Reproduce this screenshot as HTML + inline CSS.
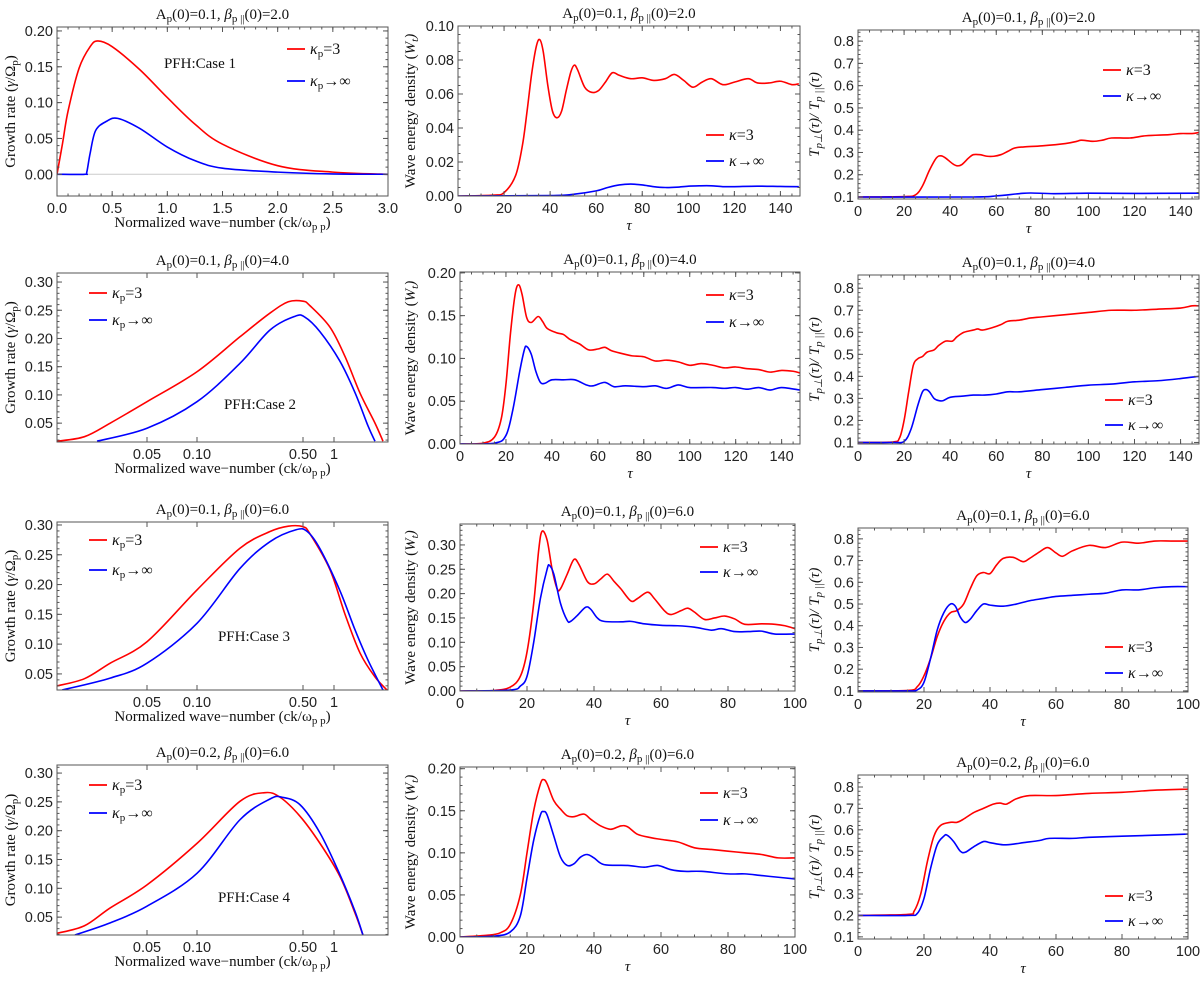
<!DOCTYPE html>
<html><head><meta charset="utf-8">
<style>
html,body{margin:0;padding:0;background:#fff;}
svg{display:block;}
.tk{font-family:"Liberation Sans",sans-serif;font-size:14.5px;fill:#222;}
.ttl{font-family:"Liberation Serif",serif;font-size:15px;fill:#111;}
.lab{font-family:"Liberation Serif",serif;font-size:15px;fill:#111;}
.leg{font-family:"Liberation Serif",serif;font-size:16px;fill:#111;}
</style></head>
<body>
<svg id="fig" width="1200" height="983" viewBox="0 0 1200 983" xmlns="http://www.w3.org/2000/svg"></svg>
<script>
// ---------- DATA ----------
const p11K = [0,0.05,0.1,0.2,0.3,0.37,0.5,0.75,1.0,1.25,1.5,2.0,2.5,3.0];
const p11Red = [0,0.043,0.088,0.148,0.178,0.186,0.178,0.146,0.107,0.070,0.042,0.012,0.003,0];
const p11BlueK = [0,0.25,0.27,0.3,0.35,0.45,0.55,0.75,1.0,1.25,1.5,2.0,2.5,3.0];
const p11Blue = [0,0,0.003,0.029,0.061,0.074,0.078,0.064,0.038,0.019,0.0085,0.003,0.0005,0];
const p21RedK = [0.0144,0.021,0.030,0.05,0.1,0.192,0.303,0.40,0.50,0.585,0.914,1.28,1.79,2.5,2.99];
const p21Red = [0.018,0.026,0.05,0.088,0.141,0.203,0.245,0.265,0.266,0.258,0.22,0.168,0.103,0.05,0.018];
const p21BlueK = [0.025,0.05,0.1,0.192,0.303,0.44,0.52,0.731,1.14,1.6,2.14,2.5];
const p21Blue = [0.018,0.041,0.088,0.156,0.215,0.239,0.238,0.212,0.16,0.104,0.045,0.018];
const p31RedK = [0.0144,0.021,0.030,0.05,0.1,0.192,0.303,0.40,0.50,0.585,0.914,1.28,1.79,2.5,3.27];
const p31Red = [0.030,0.042,0.068,0.104,0.191,0.261,0.289,0.298,0.297,0.285,0.225,0.15,0.085,0.045,0.023];
const p31BlueK = [0.0154,0.030,0.05,0.1,0.192,0.303,0.45,0.55,0.731,1.14,1.6,2.14,2.99];
const p31Blue = [0.023,0.043,0.068,0.135,0.227,0.272,0.292,0.289,0.26,0.19,0.124,0.073,0.023];
const p41RedK = [0.0144,0.021,0.030,0.05,0.1,0.192,0.28,0.353,0.478,0.731,1.14,1.6,1.91];
const p41Red = [0.022,0.035,0.066,0.106,0.178,0.251,0.266,0.258,0.225,0.178,0.121,0.057,0.019];
const p41BlueK = [0.0184,0.030,0.05,0.1,0.192,0.303,0.364,0.478,0.731,1.14,1.6,1.91];
const p41Blue = [0.019,0.04,0.069,0.126,0.219,0.255,0.258,0.245,0.196,0.124,0.06,0.019];

const p12RedT = [0,15,20,25,28,30,32,34,35.5,37,39,41,43,45,47,49,50.5,52,55,58,61,64,67,70,75,80,85,90,94,98,102,106,110,115,120,126,130,135,140,145,148];
const p12Red = [0,0.0005,0.002,0.012,0.03,0.05,0.072,0.088,0.092,0.085,0.065,0.05,0.046,0.05,0.062,0.073,0.077,0.074,0.064,0.061,0.062,0.067,0.0725,0.071,0.069,0.0695,0.068,0.069,0.0715,0.068,0.064,0.067,0.069,0.0655,0.067,0.069,0.0665,0.0665,0.0675,0.0655,0.066];
const p12BlueT = [0,40,50,60,65,70,75,80,85,90,95,100,105,110,115,120,130,140,148];
const p12Blue = [0,0.0003,0.001,0.003,0.005,0.0065,0.007,0.0065,0.0055,0.005,0.0052,0.0058,0.006,0.006,0.0055,0.0055,0.0058,0.0056,0.0055];
const p22RedT = [0,10,15,18,20,22,24,25.5,27,29,31,34,36,38,42,45,48,52,56,60,63,66,70,75,80,85,90,95,100,105,110,115,120,125,130,135,140,145,148];
const p22Red = [0,0.001,0.008,0.03,0.07,0.13,0.175,0.186,0.175,0.148,0.142,0.149,0.143,0.135,0.13,0.128,0.122,0.117,0.11,0.111,0.113,0.109,0.106,0.103,0.102,0.097,0.098,0.096,0.092,0.094,0.092,0.089,0.09,0.088,0.087,0.084,0.086,0.085,0.083];
const p22BlueT = [0,15,20,23,26,28,29,31,33,35,37,40,45,50,55,58,63,67,72,80,85,90,95,100,110,115,120,125,130,135,140,148];
const p22Blue = [0,0.001,0.01,0.04,0.085,0.11,0.114,0.105,0.085,0.072,0.071,0.075,0.075,0.075,0.069,0.068,0.072,0.067,0.068,0.067,0.068,0.065,0.069,0.066,0.066,0.065,0.066,0.064,0.066,0.063,0.066,0.063];
const p32RedT = [0,10,15,18,20,22,23.5,24.5,26,27.5,29,30,32,34,35.5,38,40,42,44,46,48,51,53,56,58,61,63,66,68,70,73,76,79,82,85,90,94,97,100];
const p32Red = [0,0.001,0.008,0.03,0.08,0.18,0.29,0.328,0.31,0.25,0.21,0.21,0.24,0.27,0.26,0.225,0.22,0.23,0.24,0.225,0.21,0.185,0.19,0.203,0.19,0.165,0.157,0.165,0.17,0.162,0.147,0.15,0.154,0.148,0.137,0.138,0.137,0.134,0.128];
const p32BlueT = [0,15,18,20,22,24,26,26.7,28,30,32,33,35,37.5,39,41,43,48,51,55,60,65,70,75,78,82,86,90,94,100];
const p32Blue = [0,0.002,0.01,0.03,0.1,0.19,0.25,0.258,0.24,0.18,0.145,0.143,0.155,0.172,0.168,0.15,0.143,0.142,0.143,0.138,0.135,0.134,0.131,0.125,0.128,0.122,0.122,0.123,0.117,0.117];
const p42RedT = [0,8,12,15,18,20,22,24,25,26,28,30,32,34,37,39,42,45,48,50,53,57,60,65,70,75,80,85,90,95,100];
const p42Red = [0,0.002,0.005,0.015,0.05,0.1,0.15,0.182,0.187,0.182,0.162,0.152,0.144,0.143,0.146,0.14,0.132,0.128,0.132,0.131,0.122,0.118,0.116,0.113,0.106,0.104,0.102,0.1,0.098,0.094,0.094];
const p42BlueT = [0,10,15,18,20,22,24,25,26,28,30,32,34,36,38,40,43,50,55,59,63,67,72,80,85,90,95,100];
const p42Blue = [0,0.001,0.006,0.025,0.07,0.115,0.145,0.149,0.145,0.12,0.095,0.085,0.087,0.095,0.098,0.094,0.086,0.085,0.083,0.085,0.08,0.078,0.078,0.075,0.075,0.073,0.071,0.069];

const p13RedT = [0,20,25,28,31,34,36,38,41,43,45,48,50,53,56,59,62,65,68,72,80,90,95,97,102,106,110,118,125,135,140,145,148];
const p13Red = [0.1,0.102,0.11,0.15,0.22,0.275,0.285,0.275,0.25,0.24,0.245,0.275,0.29,0.29,0.283,0.283,0.29,0.305,0.32,0.325,0.33,0.34,0.35,0.355,0.35,0.355,0.365,0.365,0.375,0.38,0.385,0.385,0.39];
const p13BlueT = [0,50,60,70,75,85,100,120,148];
const p13Blue = [0.1,0.1,0.105,0.115,0.118,0.115,0.117,0.116,0.117];
const p23RedT = [0,15,18,20,22,24,26,28,30,33,35,38,41,43,46,50,52,54,58,62,65,70,75,80,90,100,110,120,130,140,145,148];
const p23Red = [0.1,0.102,0.12,0.2,0.33,0.45,0.48,0.49,0.51,0.52,0.54,0.56,0.56,0.58,0.6,0.61,0.615,0.61,0.62,0.635,0.65,0.655,0.665,0.67,0.68,0.69,0.7,0.7,0.705,0.71,0.72,0.72];
const p23BlueT = [0,15,20,23,26,28,29.5,31,33,35,37,40,45,50,55,60,65,70,80,90,100,110,120,130,140,148];
const p23Blue = [0.1,0.1,0.105,0.16,0.27,0.33,0.34,0.33,0.3,0.29,0.29,0.305,0.31,0.315,0.315,0.32,0.33,0.33,0.34,0.35,0.36,0.365,0.375,0.38,0.39,0.40];
const p33RedT = [0,15,18,20,22,24,26,28,30,32,34,36,38,40,42,44,47,50,52,55,57.5,60,62,65,70,75,80,85,90,95,100];
const p33Red = [0.1,0.102,0.12,0.17,0.25,0.35,0.42,0.46,0.47,0.5,0.57,0.63,0.645,0.64,0.68,0.71,0.715,0.695,0.71,0.74,0.76,0.735,0.72,0.745,0.77,0.76,0.785,0.78,0.79,0.79,0.79];
const p33BlueT = [0,15,18,20,22,24,26,28,29.5,31,32.5,34,36,38,40,44,48,52,56,60,65,70,75,80,85,90,95,100];
const p33Blue = [0.1,0.1,0.105,0.14,0.25,0.38,0.46,0.5,0.49,0.44,0.415,0.43,0.47,0.5,0.495,0.49,0.5,0.515,0.525,0.535,0.54,0.545,0.55,0.565,0.565,0.575,0.58,0.58];
const p43RedT = [0,15,17,19,21,23,25,28,30,32,35,38,41,43,45,48,52,60,70,80,90,100];
const p43Red = [0.2,0.205,0.22,0.3,0.45,0.57,0.62,0.635,0.635,0.65,0.68,0.7,0.72,0.725,0.72,0.745,0.76,0.76,0.77,0.775,0.785,0.79];
const p43BlueT = [0,15,18,20,22,24,26,27,29,31,32.5,35,38,40,44,48,50,55,58,65,70,80,90,100];
const p43Blue = [0.2,0.2,0.21,0.28,0.42,0.53,0.57,0.575,0.545,0.5,0.495,0.52,0.545,0.54,0.53,0.535,0.54,0.55,0.56,0.56,0.565,0.57,0.575,0.58];

const tickGR1 = ["0.00","0.05","0.10","0.15","0.20"];
const tickK1 = ["0.0","0.5","1.0","1.5","2.0","2.5","3.0"];
const tickGRlog = ["0.05","0.10","0.15","0.20","0.25","0.30"];
const tickKlog = ["0.05","0.10","0.50","1"];
const tickW1 = ["0.00","0.02","0.04","0.06","0.08","0.10"];
const tickW2 = ["0.00","0.05","0.10","0.15","0.20"];
const tickW3 = ["0.00","0.05","0.10","0.15","0.20","0.25","0.30"];
const tickT150 = ["0","20","40","60","80","100","120","140"];
const tickT100 = ["0","20","40","60","80","100"];
const tickAn = ["0.1","0.2","0.3","0.4","0.5","0.6","0.7","0.8"];

// ---------- DRAWING ----------
const NS="http://www.w3.org/2000/svg";
const svg=document.getElementById('fig');
function mk(tag,attrs,parent){const e=document.createElementNS(NS,tag);for(const k in attrs)e.setAttribute(k,attrs[k]);(parent||svg).appendChild(e);return e;}
function linScale(d0,d1,r0,r1){return v=>r0+(v-d0)/(d1-d0)*(r1-r0);}
function logScale(){
  const ak=[0.05,0.1,0.5,1], ap=[147,197,303,334];
  return k=>{
    if(k<=ak[0]) return ap[0]+Math.log10(k/ak[0])*166;
    if(k>=ak[3]) return ap[3]+Math.log10(k)*103;
    for(let i=0;i<3;i++){ if(k<=ak[i+1]){const t=Math.log(k/ak[i])/Math.log(ak[i+1]/ak[i]);return ap[i]+t*(ap[i+1]-ap[i]);} }
  };
}
function smoothPath(pts){
  let d="M"+pts[0][0].toFixed(2)+","+pts[0][1].toFixed(2);
  for(let i=0;i<pts.length-1;i++){
    const p0=pts[Math.max(0,i-1)],p1=pts[i],p2=pts[i+1],p3=pts[Math.min(pts.length-1,i+2)];
    const c1=[p1[0]+(p2[0]-p0[0])/6,p1[1]+(p2[1]-p0[1])/6];
    const c2=[p2[0]-(p3[0]-p1[0])/6,p2[1]-(p3[1]-p1[1])/6];
    d+="C"+c1[0].toFixed(2)+","+c1[1].toFixed(2)+" "+c2[0].toFixed(2)+","+c2[1].toFixed(2)+" "+p2[0].toFixed(2)+","+p2[1].toFixed(2);
  }
  return d;
}

function panel(o){
  const g=mk('g',{});
  
  
  const L=o.l,R=o.r,T=o.t,B=o.b;
  const sx=o.xs, sy=linScale(o.ymin,o.ymax,B,T);
  const cp=mk('clipPath',{id:'c'+o.name},g);
  mk('rect',{x:L,y:T,width:R-L,height:B-T},cp);
  if(o.zero){const z=mk('line',{x1:L,x2:R,y1:sy(0),y2:sy(0),stroke:'#ccc','stroke-width':1},g);
    }
  o.series.forEach(s=>{
    const pts=s.x.map((v,i)=>[sx(v),sy(s.y[i])]);
    const p=mk('path',{d:smoothPath(pts),fill:'none',stroke:s.c,'stroke-width':1.6,'clip-path':'url(#c'+o.name+')'},g);
    
    
  });
  const fr=mk('rect',{x:L,y:T,width:R-L,height:B-T,fill:'none',stroke:'#555','stroke-width':1},g);
  
  o.yt.forEach(lbl=>{
    const v=parseFloat(lbl),y=sy(v);
    mk('line',{x1:L,x2:L+5,y1:y,y2:y,stroke:'#555'},g);
    mk('line',{x1:R,x2:R-5,y1:y,y2:y,stroke:'#555'},g);
    const t=mk('text',{x:L-4,y:y+5,'text-anchor':'end',class:'tk'},g);t.textContent=lbl;
    
  });
  if(o.ym){for(let v=o.ym[0];v<=o.ymax+1e-9;v+=o.ym[1]){if(v<o.ymin)continue;const y=sy(v);
    mk('line',{x1:L,x2:L+2.5,y1:y,y2:y,stroke:'#555'},g);mk('line',{x1:R,x2:R-2.5,y1:y,y2:y,stroke:'#555'},g);}}
  o.xt.forEach(lbl=>{
    const v=parseFloat(lbl),x=sx(v);
    mk('line',{x1:x,x2:x,y1:B,y2:B-5,stroke:'#555'},g);
    mk('line',{x1:x,x2:x,y1:T,y2:T+5,stroke:'#555'},g);
    const t=mk('text',{x:x,y:B+17,'text-anchor':'middle',class:'tk'},g);t.textContent=lbl;
    
  });
  if(o.xm){for(let v=o.xm[0];v<=o.xm[2];v+=o.xm[1]){const x=sx(v);if(x<L||x>R)continue;
    mk('line',{x1:x,x2:x,y1:B,y2:B-2.5,stroke:'#555'},g);mk('line',{x1:x,x2:x,y1:T,y2:T+2.5,stroke:'#555'},g);}}
  const tt=mk('text',{x:(L+R)/2,y:T-8,'text-anchor':'middle',class:'ttl'},g);
  tt.innerHTML=o.title;
  const xl=mk('text',{x:(L+R)/2,y:B+(o.tau?34:31),'text-anchor':'middle',class:'lab'},g);
  xl.innerHTML=o.xlab;
  const yl=mk('text',{x:0,y:0,'text-anchor':'middle',class:'lab',transform:`translate(${o.ylx},${(T+B)/2}) rotate(-90)`},g);
  yl.innerHTML=o.ylab;
  o.leg.forEach(e=>{
    const lg=mk('g',{},g);
    
    mk('line',{x1:e.x,x2:e.x+18,y1:e.y,y2:e.y,stroke:e.c,'stroke-width':1.8},lg);
    const t=mk('text',{x:e.x+23,y:e.y+5,class:'leg'},lg);t.innerHTML=e.t;
  });
  if(o.note){const n=mk('text',{x:o.note[0],y:o.note[1],'text-anchor':'middle',class:'lab'},g);n.textContent=o.note[2];
    }
}

const kp3='<tspan font-style="italic">κ</tspan><tspan font-size="11" dy="3">p</tspan><tspan dy="-3">=3</tspan>';
const kpi='<tspan font-style="italic">κ</tspan><tspan font-size="11" dy="3">p</tspan><tspan dy="-3">→∞</tspan>';
const k3='<tspan font-style="italic">κ</tspan>=3', ki='<tspan font-style="italic">κ</tspan>→∞';
function ttl(a,b){return `A<tspan font-size="11" dy="3">p</tspan><tspan dy="-3">(0)=${a}, </tspan><tspan font-style="italic">β</tspan><tspan font-size="11" dy="3">p ||</tspan><tspan dy="-3">(0)=${b}</tspan>`;}
const grLab='Growth rate  (<tspan font-style="italic">γ</tspan>/Ω<tspan font-size="11" dy="3">p</tspan><tspan dy="-3">)</tspan>';
const kLab='Normalized wave−number (ck/ω<tspan font-size="11" dy="3">p p</tspan><tspan dy="-3">)</tspan>';
const wLab='Wave energy density (<tspan font-style="italic">W<tspan font-size="11" dy="3">t</tspan><tspan dy="-3">)</tspan></tspan>';
const tLab='<tspan font-style="italic">T<tspan font-size="11" dy="3">p⊥</tspan><tspan dy="-3">(τ)/ T</tspan><tspan font-size="11" dy="3">p ||</tspan><tspan dy="-3">(τ)</tspan></tspan>';
const tau='<tspan font-style="italic">τ</tspan>';

panel({name:'growth-case1',l:57,r:388,t:27,b:196,xs:linScale(0,3,57,388),ymin:-0.0303,ymax:0.2055,zero:true,
  yt:tickGR1,ym:[0,0.01],xt:tickK1,xm:[0,0.1,3],title:ttl('0.1','2.0'),xlab:kLab,ylab:grLab,ylx:15,
  series:[{x:p11K,y:p11Red,c:'#f00',n:'kappa3-curve'},{x:p11BlueK,y:p11Blue,c:'#00f',n:'kappa-inf-curve'}],
  leg:[{x:287,y:49,c:'#f00',t:kp3},{x:287,y:81,c:'#00f',t:kpi}],note:[200,68,'PFH:Case 1']});
panel({name:'growth-case2',l:57,r:388,t:273,b:442,xs:logScale(),ymin:0.0166,ymax:0.316,
  yt:tickGRlog,ym:[0.02,0.01],xt:tickKlog,title:ttl('0.1','4.0'),xlab:kLab,ylab:grLab,ylx:15,
  series:[{x:p21RedK,y:p21Red,c:'#f00',n:'kappa3-curve'},{x:p21BlueK,y:p21Blue,c:'#00f',n:'kappa-inf-curve'}],
  leg:[{x:89,y:293,c:'#f00',t:kp3},{x:89,y:320,c:'#00f',t:kpi}],note:[260,409,'PFH:Case 2']});
panel({name:'growth-case3',l:57,r:388,t:522,b:690,xs:logScale(),ymin:0.023,ymax:0.305,
  yt:tickGRlog,ym:[0.03,0.01],xt:tickKlog,title:ttl('0.1','6.0'),xlab:kLab,ylab:grLab,ylx:15,
  series:[{x:p31RedK,y:p31Red,c:'#f00',n:'kappa3-curve'},{x:p31BlueK,y:p31Blue,c:'#00f',n:'kappa-inf-curve'}],
  leg:[{x:89,y:540,c:'#f00',t:kp3},{x:89,y:570,c:'#00f',t:kpi}],note:[254,641,'PFH:Case 3']});
panel({name:'growth-case4',l:57,r:388,t:765,b:935,xs:logScale(),ymin:0.019,ymax:0.314,
  yt:tickGRlog,ym:[0.02,0.01],xt:tickKlog,title:ttl('0.2','6.0'),xlab:kLab,ylab:grLab,ylx:15,
  series:[{x:p41RedK,y:p41Red,c:'#f00',n:'kappa3-curve'},{x:p41BlueK,y:p41Blue,c:'#00f',n:'kappa-inf-curve'}],
  leg:[{x:89,y:785,c:'#f00',t:kp3},{x:89,y:813,c:'#00f',t:kpi}],note:[254,902,'PFH:Case 4']});

panel({name:'wave-energy-case1',l:458,r:800,t:26,b:196,xs:linScale(0,148.5,458,800),ymin:0,ymax:0.10,tau:true,
  yt:tickW1,ym:[0,0.005],xt:tickT150,xm:[0,5,150],title:ttl('0.1','2.0'),xlab:tau,ylab:wLab,ylx:415,
  series:[{x:p12RedT,y:p12Red,c:'#f00',n:'kappa3-curve'},{x:p12BlueT,y:p12Blue,c:'#00f',n:'kappa-inf-curve'}],
  leg:[{x:706,y:135,c:'#f00',t:k3},{x:706,y:161,c:'#00f',t:ki}]});
panel({name:'wave-energy-case2',l:460,r:800,t:272,b:444,xs:linScale(0,148,460,800),ymin:0,ymax:0.201,tau:true,
  yt:tickW2,ym:[0,0.01],xt:tickT150,xm:[0,5,150],title:ttl('0.1','4.0'),xlab:tau,ylab:wLab,ylx:415,
  series:[{x:p22RedT,y:p22Red,c:'#f00',n:'kappa3-curve'},{x:p22BlueT,y:p22Blue,c:'#00f',n:'kappa-inf-curve'}],
  leg:[{x:706,y:295,c:'#f00',t:k3},{x:706,y:322,c:'#00f',t:ki}]});
panel({name:'wave-energy-case3',l:460,r:795,t:524,b:691,xs:linScale(0,100,460,795),ymin:0,ymax:0.343,tau:true,
  yt:tickW3,ym:[0,0.01],xt:tickT100,xm:[0,5,100],title:ttl('0.1','6.0'),xlab:tau,ylab:wLab,ylx:415,
  series:[{x:p32RedT,y:p32Red,c:'#f00',n:'kappa3-curve'},{x:p32BlueT,y:p32Blue,c:'#00f',n:'kappa-inf-curve'}],
  leg:[{x:700,y:547,c:'#f00',t:k3},{x:700,y:572,c:'#00f',t:ki}]});
panel({name:'wave-energy-case4',l:460,r:795,t:767,b:937,xs:linScale(0,100,460,795),ymin:0,ymax:0.202,tau:true,
  yt:tickW2,ym:[0,0.01],xt:tickT100,xm:[0,5,100],title:ttl('0.2','6.0'),xlab:tau,ylab:wLab,ylx:415,
  series:[{x:p42RedT,y:p42Red,c:'#f00',n:'kappa3-curve'},{x:p42BlueT,y:p42Blue,c:'#00f',n:'kappa-inf-curve'}],
  leg:[{x:700,y:793,c:'#f00',t:k3},{x:700,y:820,c:'#00f',t:ki}]});

panel({name:'anisotropy-case1',l:858,r:1199,t:30,b:199,xs:linScale(0,148,858,1199),ymin:0.091,ymax:0.85,tau:true,
  yt:tickAn,ym:[0.1,0.02],xt:tickT150,xm:[0,5,150],title:ttl('0.1','2.0'),xlab:tau,ylab:tLab,ylx:819,
  series:[{x:p13RedT,y:p13Red,c:'#f00',n:'kappa3-curve'},{x:p13BlueT,y:p13Blue,c:'#00f',n:'kappa-inf-curve'}],
  leg:[{x:1103,y:70,c:'#f00',t:k3},{x:1103,y:96,c:'#00f',t:ki}]});
panel({name:'anisotropy-case2',l:858,r:1199,t:275,b:444,xs:linScale(0,148,858,1199),ymin:0.093,ymax:0.86,tau:true,
  yt:tickAn,ym:[0.1,0.02],xt:tickT150,xm:[0,5,150],title:ttl('0.1','4.0'),xlab:tau,ylab:tLab,ylx:819,
  series:[{x:p23RedT,y:p23Red,c:'#f00',n:'kappa3-curve'},{x:p23BlueT,y:p23Blue,c:'#00f',n:'kappa-inf-curve'}],
  leg:[{x:1105,y:400,c:'#f00',t:k3},{x:1105,y:425,c:'#00f',t:ki}]});
panel({name:'anisotropy-case3',l:858,r:1188,t:528,b:692,xs:linScale(0,100,858,1188),ymin:0.095,ymax:0.85,tau:true,
  yt:tickAn,ym:[0.1,0.02],xt:tickT100,xm:[0,5,100],title:ttl('0.1','6.0'),xlab:tau,ylab:tLab,ylx:819,
  series:[{x:p33RedT,y:p33Red,c:'#f00',n:'kappa3-curve'},{x:p33BlueT,y:p33Blue,c:'#00f',n:'kappa-inf-curve'}],
  leg:[{x:1105,y:647,c:'#f00',t:k3},{x:1105,y:673,c:'#00f',t:ki}]});
panel({name:'anisotropy-case4',l:858,r:1188,t:775,b:939,xs:linScale(0,100,858,1188),ymin:0.09,ymax:0.856,tau:true,
  yt:tickAn,ym:[0.1,0.02],xt:tickT100,xm:[0,5,100],title:ttl('0.2','6.0'),xlab:tau,ylab:tLab,ylx:819,
  series:[{x:p43RedT,y:p43Red,c:'#f00',n:'kappa3-curve'},{x:p43BlueT,y:p43Blue,c:'#00f',n:'kappa-inf-curve'}],
  leg:[{x:1105,y:896,c:'#f00',t:k3},{x:1105,y:921,c:'#00f',t:ki}]});
</script>
</body></html>
